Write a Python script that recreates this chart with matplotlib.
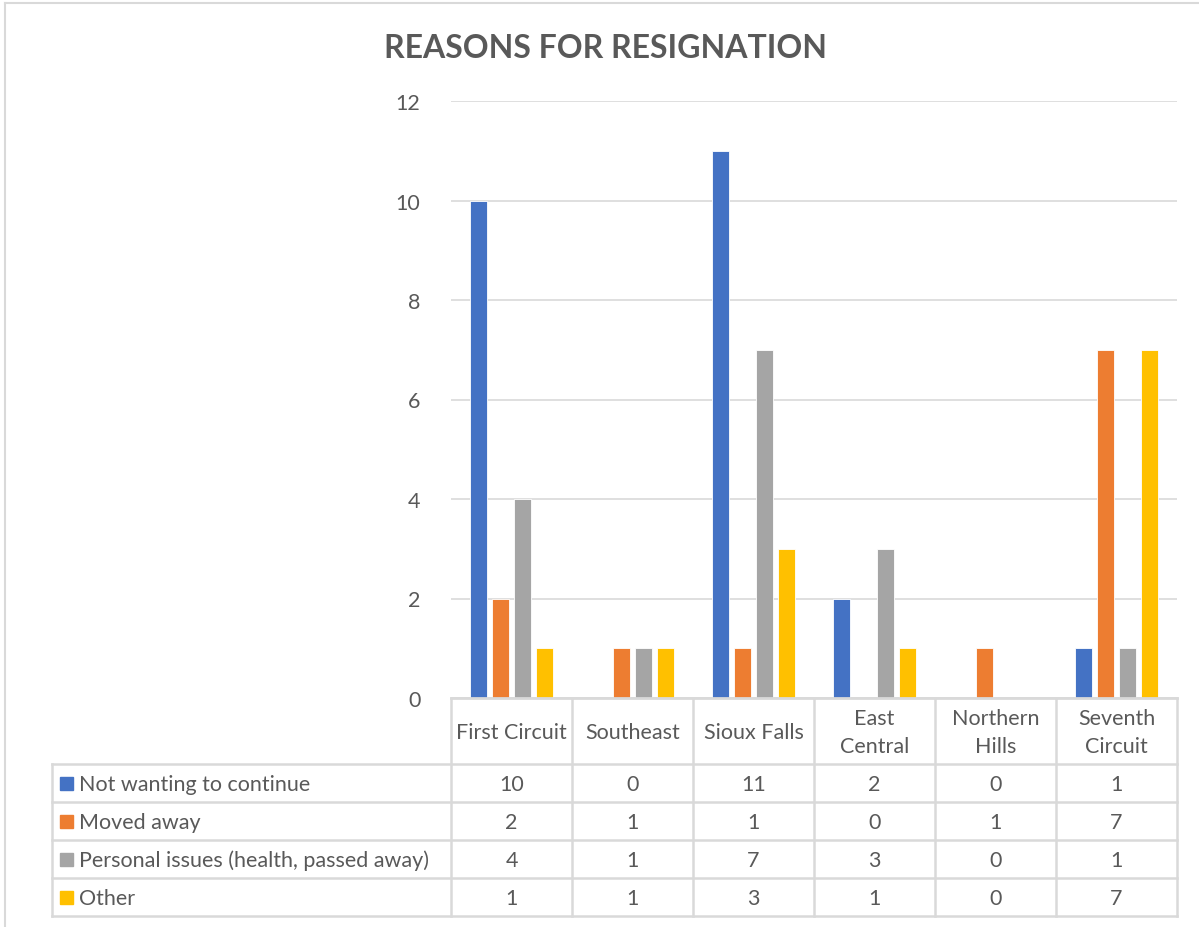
import matplotlib
matplotlib.use("Agg")
import matplotlib.pyplot as plt
from matplotlib.lines import Line2D
from matplotlib.patches import Rectangle

categories = ["First Circuit", "Southeast", "Sioux Falls", "East\nCentral", "Northern\nHills", "Seventh\nCircuit"]
series_names = ["Not wanting to continue", "Moved away", "Personal issues (health, passed away)", "Other"]
not_wanting = [10, 0, 11, 2, 0, 1]
moved_away = [2, 1, 1, 0, 1, 7]
personal = [4, 1, 7, 3, 0, 1]
other = [1, 1, 3, 1, 0, 7]
series_values = [not_wanting, moved_away, personal, other]
colors = ["#4472C4", "#ED7D31", "#A5A5A5", "#FFC000"]
yticks = [0, 2, 4, 6, 8, 10, 12]
title = "REASONS FOR RESIGNATION"

plt.rcParams['font.family'] = ['Lato', 'DejaVu Sans']
TXT = "#595959"
GRID = "#D9D9D9"
FS = 15.5

W, H = 1199, 928
fig = plt.figure(figsize=(W / 100, H / 100), dpi=100)

def fx(px):
    return px / W

def fy(py):
    return 1 - py / H

# plot area
L, R, T, B = 451, 1177, 102, 699
ax = fig.add_axes([fx(L), fy(B), fx(R) - fx(L), fy(T) - fy(B)])
n = len(categories)
ax.set_xlim(-0.5, n - 0.5)
ax.set_ylim(0, 12)
bw = 17 / 121
pitch = 22 / 121
for i, (vals, c) in enumerate(zip(series_values, colors)):
    off = (i - 1.5) * pitch
    ax.bar([k + off for k in range(n)], vals, width=bw, color=c, zorder=3,
           edgecolor="white", linewidth=0.6)
ax.set_yticks(yticks)
ax.set_yticklabels([str(t) for t in yticks], color=TXT, fontsize=FS)
ax.tick_params(axis='y', length=0, pad=22)
ax.set_xticks([])
ax.yaxis.grid(True, color=GRID, linewidth=1.2, zorder=0)
for s in ['top', 'right', 'left']:
    ax.spines[s].set_visible(False)
ax.spines['bottom'].set_color(GRID)
ax.spines['bottom'].set_linewidth(2)
ax.spines['bottom'].set_zorder(4)

# data table
tab_left = 52
tx0 = -0.5 - (L - tab_left) / 121
tab = fig.add_axes([fx(tab_left), fy(917), fx(R) - fx(tab_left), fy(B) - fy(917)])
tab.set_xlim(tx0, n - 0.5)
tab.set_ylim(917, B)
tab.axis('off')
row_lines = [765, 803, 841, 879, 917]
lw = 1.8
for y in row_lines:
    tab.add_line(Line2D([tx0, n - 0.5], [y, y], color=GRID, lw=lw, clip_on=False))
for k in range(n + 1):
    x = k - 0.5
    tab.add_line(Line2D([x, x], [B, 917], color=GRID, lw=lw, clip_on=False))
tab.add_line(Line2D([tx0, tx0], [765, 917], color=GRID, lw=lw, clip_on=False))

for k, cat in enumerate(categories):
    tab.text(k, (B + 765) / 2 + 1, cat, ha='center', va='center', color=TXT,
             fontsize=FS, linespacing=1.45)
for r, (name, vals, c) in enumerate(zip(series_names, series_values, colors)):
    yc = (row_lines[r] + row_lines[r + 1]) / 2 + 1
    for k, v in enumerate(vals):
        tab.text(k, yc, str(v), ha='center', va='center', color=TXT, fontsize=FS)
    key_w = 13 / 121
    tab.add_patch(Rectangle((tx0 + 8 / 121, yc + 6), key_w, -13, color=c, clip_on=False))
    tab.text(tx0 + 27 / 121, yc, name, ha='left', va='center', color=TXT, fontsize=FS)

# title
fig.text(fx(606), fy(49), title, ha='center', va='center', color=TXT,
         fontsize=23, fontweight='bold')

# chart border (top and left visible)
fig.add_artist(Line2D([fx(5), 1], [fy(4), fy(4)], color=GRID, lw=1.5, transform=fig.transFigure))
fig.add_artist(Line2D([fx(5), fx(5)], [fy(4), 0], color=GRID, lw=1.5, transform=fig.transFigure))

fig.savefig("out.png", dpi=100, facecolor="white")
